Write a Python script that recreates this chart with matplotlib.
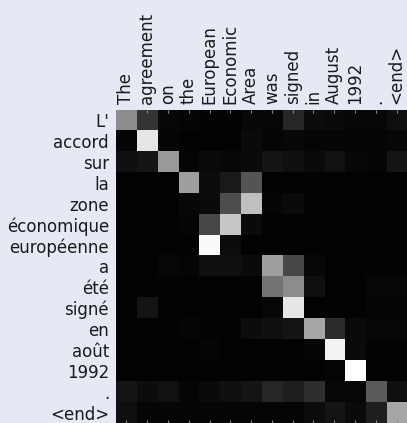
import matplotlib
matplotlib.use("Agg")
import matplotlib.pyplot as plt
import numpy as np

source_words = ["The", "agreement", "on", "the", "European", "Economic", "Area",
                "was", "signed", "in", "August", "1992", ".", "<end>"]
target_words = ["L'", "accord", "sur", "la", "zone", "économique", "européenne",
                "a", "été", "signé", "en", "août", "1992", ".", "<end>"]

# attention weights, one row per target word
attention = np.array([
    [0.55, 0.20, 0.03, 0.02, 0.01, 0.01, 0.03, 0.03, 0.15, 0.05, 0.04, 0.03, 0.03, 0.06],
    [0.02, 0.90, 0.02, 0.01, 0.01, 0.01, 0.04, 0.02, 0.03, 0.02, 0.02, 0.02, 0.02, 0.03],
    [0.06, 0.08, 0.60, 0.02, 0.04, 0.03, 0.04, 0.08, 0.06, 0.04, 0.07, 0.03, 0.02, 0.08],
    [0.01, 0.01, 0.01, 0.62, 0.05, 0.10, 0.33, 0.01, 0.01, 0.01, 0.01, 0.01, 0.01, 0.01],
    [0.01, 0.01, 0.01, 0.03, 0.04, 0.30, 0.75, 0.02, 0.04, 0.01, 0.01, 0.01, 0.01, 0.01],
    [0.01, 0.01, 0.01, 0.02, 0.28, 0.78, 0.04, 0.01, 0.01, 0.01, 0.01, 0.01, 0.01, 0.01],
    [0.01, 0.01, 0.01, 0.01, 0.98, 0.05, 0.01, 0.01, 0.01, 0.01, 0.01, 0.01, 0.01, 0.01],
    [0.01, 0.01, 0.03, 0.02, 0.06, 0.06, 0.04, 0.62, 0.28, 0.03, 0.01, 0.01, 0.01, 0.01],
    [0.01, 0.01, 0.01, 0.01, 0.01, 0.01, 0.01, 0.45, 0.55, 0.06, 0.01, 0.01, 0.03, 0.03],
    [0.01, 0.08, 0.01, 0.01, 0.01, 0.01, 0.01, 0.03, 0.90, 0.01, 0.01, 0.01, 0.02, 0.02],
    [0.01, 0.01, 0.01, 0.02, 0.01, 0.01, 0.05, 0.06, 0.08, 0.65, 0.17, 0.04, 0.03, 0.03],
    [0.01, 0.01, 0.01, 0.01, 0.02, 0.01, 0.01, 0.01, 0.01, 0.02, 0.95, 0.04, 0.01, 0.01],
    [0.01, 0.01, 0.01, 0.01, 0.01, 0.01, 0.01, 0.01, 0.01, 0.01, 0.02, 1.00, 0.01, 0.01],
    [0.08, 0.05, 0.07, 0.02, 0.04, 0.06, 0.08, 0.15, 0.12, 0.18, 0.03, 0.03, 0.35, 0.06],
    [0.06, 0.02, 0.02, 0.02, 0.02, 0.02, 0.02, 0.02, 0.02, 0.05, 0.08, 0.04, 0.12, 0.65],
])

fig = plt.figure(figsize=(4.07, 4.23), dpi=100, facecolor="#e6e9f3")
ax = fig.add_axes([0.285, 0.0, 0.715, 0.74])

ax.imshow(attention, cmap="gray", vmin=0, vmax=1, aspect="auto",
          interpolation="nearest")

ax.set_xticks(range(len(source_words)))
ax.set_xticklabels(source_words, rotation=90, fontsize=12, color="#1a1a1a")
ax.set_yticks(range(len(target_words)))
ax.set_yticklabels(target_words, fontsize=12, color="#1a1a1a")

ax.xaxis.tick_top()
ax.tick_params(axis="both", direction="in", length=2, color="#888888",
               top=True, bottom=True, left=False, right=False)
ax.tick_params(axis="x", pad=4)
ax.tick_params(axis="y", pad=5)
for s in ax.spines.values():
    s.set_visible(False)

plt.savefig("out.png", dpi=100, facecolor=fig.get_facecolor())
